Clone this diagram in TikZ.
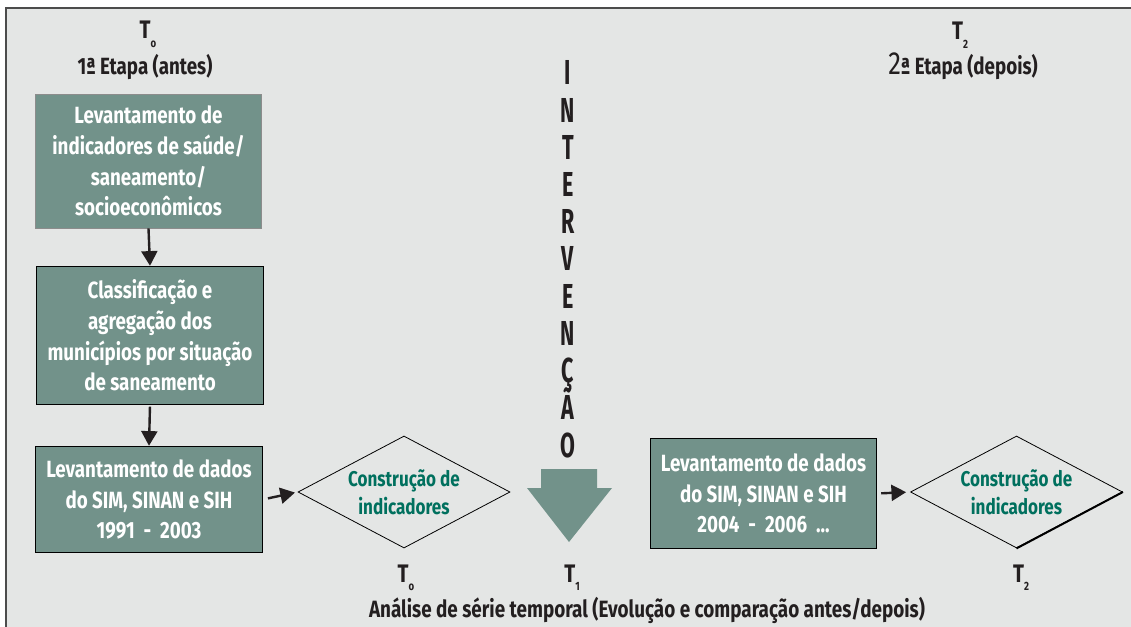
\documentclass[tikz,border=0pt]{standalone}
\usepackage{fontspec}
\setmainfont[FakeStretch=0.8]{Fira Sans}
\newfontfamily\tallfont[FakeStretch=0.62]{Fira Sans}
\usetikzlibrary{shapes.geometric,arrows.meta}
\definecolor{boxgreen}{RGB}{114,146,138}
\definecolor{panelgray}{RGB}{228,230,229}
\definecolor{textteal}{RGB}{0,112,94}
\definecolor{inkgray}{RGB}{35,31,32}
\newcommand\tmark[1]{T\raisebox{-0.6ex}{\fontsize{9}{9}\selectfont #1}}
\begin{document}
\begin{tikzpicture}[x=0.75pt,y=-0.75pt,
    etapa/.style={draw=black,line width=0.6pt,fill=boxgreen,text=white,
      font=\bfseries\fontsize{17.6}{23}\selectfont,align=center,inner sep=0pt,
      minimum width=170pt},
    decisao/.style={diamond,aspect=1.9,draw=black,line width=0.6pt,text=textteal,
      font=\bfseries\fontsize{16}{21}\selectfont,align=center,inner sep=0pt,
      minimum width=159pt,minimum height=84pt},
    rotulo/.style={text=inkgray,font=\bfseries\fontsize{17.6}{20}\selectfont,inner sep=0pt},
    seta/.style={-{Triangle[length=11pt,width=12pt]},line width=1.8pt,draw=inkgray}]
  \useasboundingbox (0,0) rectangle (1131,627);
  \fill[panelgray] (6,8) rectangle (1131,627);
  \draw[line width=1.6pt,black!70] (6,627) -- (6,8) -- (1131,8);

  \node[rotulo,anchor=base] (t0top) at (148,39) {\fontsize{19}{19}\selectfont\tmark{o}};
  \node[rotulo,anchor=base] (etapa1) at (145,75) {1ª Etapa (antes)};
  \node[rotulo,anchor=base] (t2top) at (960,40) {\fontsize{19}{19}\selectfont\tmark{2}};
  \node[rotulo,anchor=base] (etapa2) at (963,75) {{\fontsize{24}{24}\selectfont\mdseries 2}ª Etapa (depois)};

  \node[etapa,draw=black!45,minimum height=100.5pt] (lev1) at (148.5,161)
    {Levantamento de\\indicadores de saúde/\\saneamento/\\socioeconômicos};
  \node[etapa,minimum height=104pt] (class) at (150,335.5)
    {Classificação e\\agregação dos\\municípios por situação\\de saneamento};
  \node[etapa,minimum height=80pt] (lev2) at (149,499.5)
    {Levantamento de dados\\do SIM, SINAN e SIH\\1991 \ - \ 2003};
  \node[decisao] (cons1) at (404,492) {Construção de\\indicadores};
  \node[etapa,minimum height=83pt] (lev3) at (763.5,493.5)
    {Levantamento de dados\\do SIM, SINAN e SIH\\2004 \ - \ 2006 \ ...};
  \node[decisao] (cons2) at (1016.5,492) {Construção de\\indicadores};
  \draw[line width=1.5pt] (cons2.east) -- (cons2.south);

  \draw[seta] (lev1.south) -- (class.north);
  \draw[seta,shorten <=1pt] (class.south) -- (lev2.north);
  \draw[seta,shorten <=4pt,shorten >=2pt] (lev2.east) -- (cons1.west);
  \draw[seta,shorten <=3pt,shorten >=3pt] (lev3.east) -- (cons2.west);

  \foreach \letra [count=\i from 0] in {I,N,T,E,R,V,E,N,Ç,Ã,O}
    \node[text=inkgray,font=\tallfont\bfseries\fontsize{26}{26}\selectfont,
      inner sep=0pt,anchor=base] (int\i) at (568,{85+37.2*\i}) {\letra};
  \fill[boxgreen] (541,469) -- (597,469) -- (597,488) -- (612,488) -- (569,542)
    -- (527,488) -- (541,488) -- cycle;

  \node[rotulo,anchor=base] (t0) at (406,582) {\fontsize{19}{19}\selectfont\tmark{o}};
  \node[rotulo,anchor=base] (t1) at (572,582) {\fontsize{19}{19}\selectfont\tmark{1}};
  \node[rotulo,anchor=base] (t2) at (1021,582) {\fontsize{19}{19}\selectfont\tmark{2}};
  \node[rotulo,anchor=base,font=\bfseries\fontsize{17.7}{20}\selectfont] (analise) at (647,617)
    {Análise de série temporal (Evolução e comparação antes/depois)};
\end{tikzpicture}
\end{document}
